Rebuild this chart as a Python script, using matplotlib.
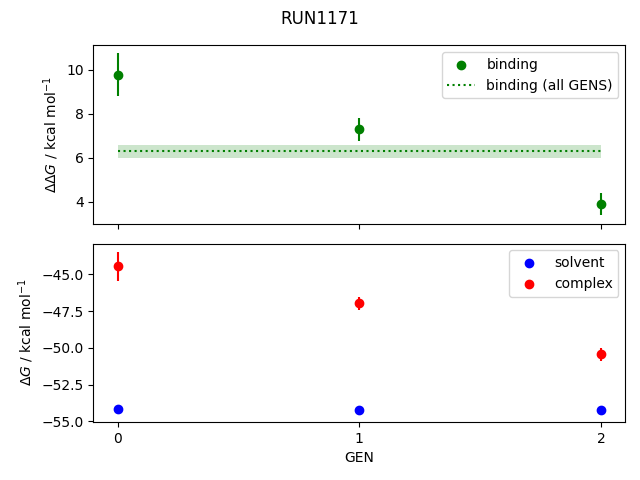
import numpy as np
import matplotlib
matplotlib.use('Agg')
import matplotlib.pyplot as plt

# ─── DATOS ────────────────────────────────────────────────────────────────────
gens = [0, 1, 2]

binding = [9.79, 7.29, 3.88]
binding_err = [0.97, 0.51, 0.50]

binding_all = 6.30
binding_all_err = 0.30

solvent = [-54.17, -54.24, -54.23]
solvent_err = [0.2, 0.21, 0.21]

complex_ = [-44.46, -46.96, -50.43]
complex_err = [0.98, 0.45, 0.45]

# ─── FIGURA ───────────────────────────────────────────────────────────────────
fig, (ax1, ax2) = plt.subplots(2, 1, sharex=True, figsize=(6.4, 4.8), dpi=100)
fig.suptitle('RUN1171')

ax1.scatter(gens, binding, color='green', label='binding')
ax1.errorbar(gens, binding, yerr=binding_err, fmt='none', ecolor='green')
ax1.hlines(binding_all, gens[0], gens[-1], colors='green', linestyles='dotted',
           label='binding (all GENS)')
ax1.fill_between(gens, binding_all - binding_all_err, binding_all + binding_all_err,
                 color='green', alpha=0.2, linewidth=0)
ax1.set_ylabel(r'$\Delta\Delta G$ / kcal mol$^{-1}$')
ax1.legend()

ax2.errorbar(gens, solvent, yerr=solvent_err, fmt='none', ecolor='blue')
ax2.scatter(gens, solvent, color='blue', label='solvent', zorder=3)
ax2.scatter(gens, complex_, color='red', label='complex')
ax2.errorbar(gens, complex_, yerr=complex_err, fmt='none', ecolor='red')
ax2.set_ylim(-55.03, -42.9)
ax2.set_ylabel(r'$\Delta G$ / kcal mol$^{-1}$')
ax2.set_xlabel('GEN')
ax2.set_xticks(gens)
ax2.legend()

plt.subplots_adjust(left=0.146, right=0.977, top=0.906, bottom=0.121, hspace=0.112)
plt.savefig('out.png', dpi=100)
plt.close()
